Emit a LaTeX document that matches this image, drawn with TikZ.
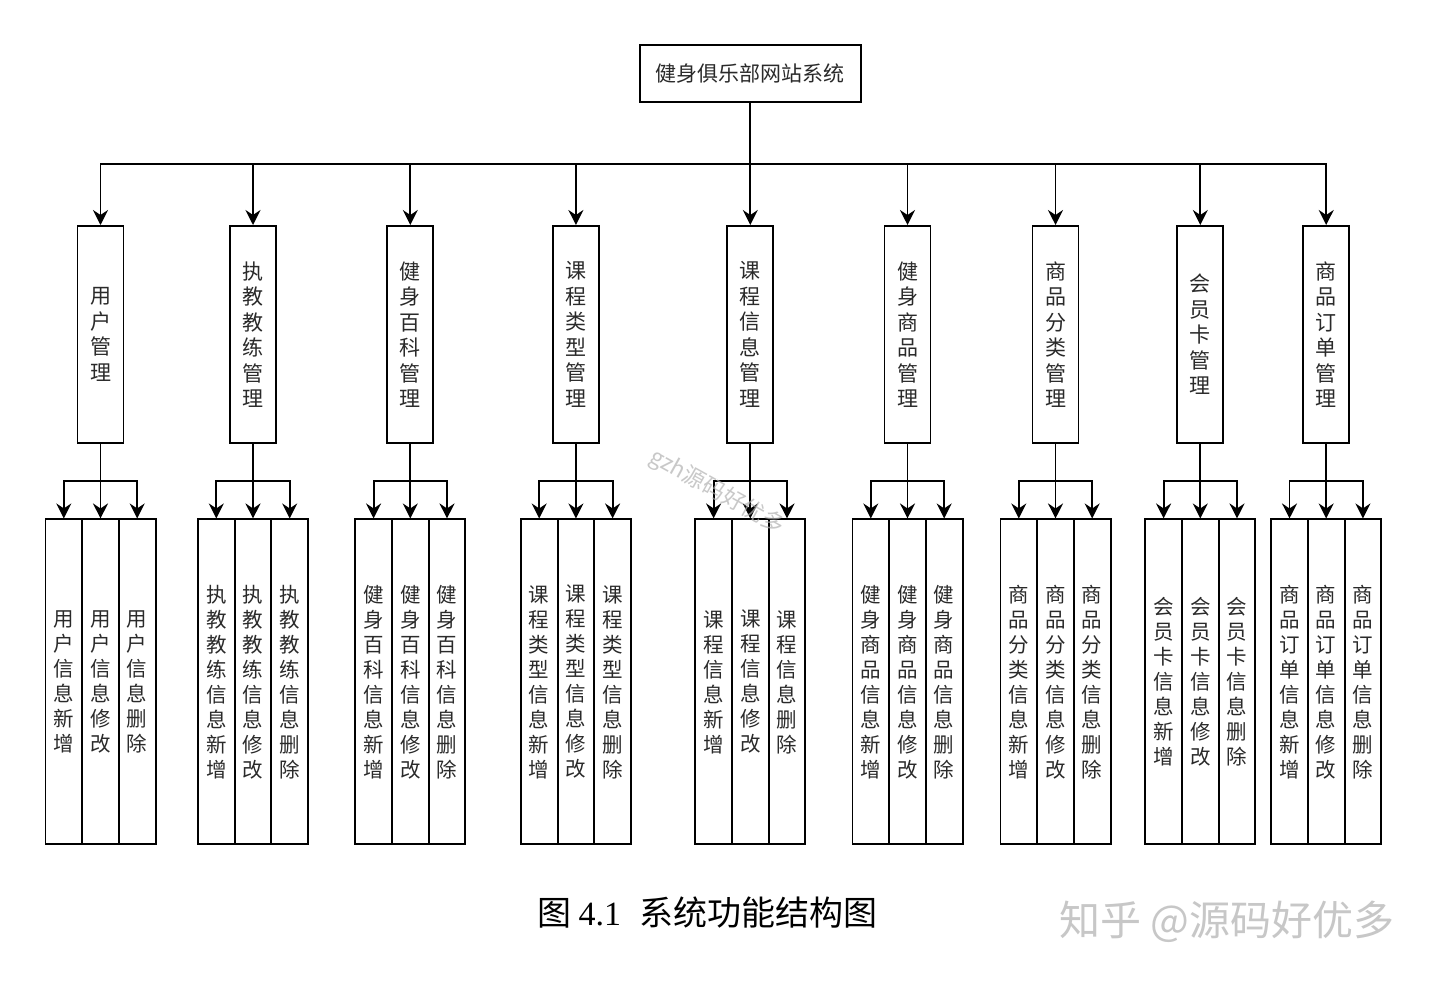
\documentclass[tikz,border=0pt]{standalone}
\usepackage{fontspec}
\setmainfont{Noto Sans CJK SC}
\newfontfamily\serifnum{Liberation Serif}
\usetikzlibrary{arrows.meta}
\def\vt#1{\vtA#1\relax}
\def\vtA#1{\ifx\relax#1\else#1\par\expandafter\vtA\fi}
\definecolor{txt}{HTML}{2A2A2A}
\begin{document}
\begin{tikzpicture}[x=1pt,y=-1pt,
  box/.style={draw=black, line width=1.9pt, inner sep=0pt, text=txt, fill=white},
  modbox/.style={box, minimum width=46pt, minimum height=217.3pt, text width=24pt, align=center, font=\fontsize{21}{25.5}\selectfont},
  leaf/.style={box, minimum width=36.7pt, minimum height=325pt, text width=22pt, align=center, font=\fontsize{20.5}{25}\selectfont},
  arr/.style={line width=1.9pt, -{Stealth[length=15pt,width=15pt,inset=5pt]}},
]
\fill[white] (0,0) rectangle (1440,983);
\useasboundingbox (0,0) rectangle (1440,983);

\node[box, minimum width=220.7pt, minimum height=57.3pt, font=\fontsize{21}{25}\selectfont] (root) at (750.3,73.7) {健身俱乐部网站系统};

\foreach \x/\mn/\sh [count=\i] in {
  100.5/用户管理/用户,
  253/执教教练管理/执教教练,
  410.3/健身百科管理/健身百科,
  575.9/课程类型管理/课程类型,
  750.3/课程信息管理/课程,
  907.5/健身商品管理/健身商品,
  1055.5/商品分类管理/商品分类,
  1200.3/会员卡管理/会员卡,
  1326.2/商品订单管理/商品订单}{
  \node[modbox] (m\i) at (\x,334.6) {\expandafter\vt\expandafter{\mn}};
  \coordinate (bus\i) at (\x,164.3);
  \draw[arr] (root.south) |- (bus\i) -- (m\i.north);
  \foreach \k/\op in {-1/新增,0/修改,1/删除}{
    \edef\leaftxt{\sh 信息\op}%
    \node[leaf] (c\i\k) at (\x+\k*36.7,681.9) {\expandafter\vt\expandafter{\leaftxt}};
    \coordinate (cb\i\k) at (\x+\k*36.7,481);
    \draw[arr] (m\i.south) |- (cb\i\k) -- (c\i\k.north);
  }
}

\node[font=\fontsize{34}{37}\selectfont, text=black] (cap) at (707.5,913) {图 {\serifnum 4.1}\hspace{0.55em}系统功能结构图};
\node[font=\fontsize{41}{44}\selectfont, text=black!22] (wm) at (1227,922) {知乎 @源码好优多};
\node[rotate=-29, font=\fontsize{22.5}{24}\selectfont, text=black!30, opacity=0.7] (gzh) at (717,492) {gzh源码好优多};
\end{tikzpicture}
\end{document}
